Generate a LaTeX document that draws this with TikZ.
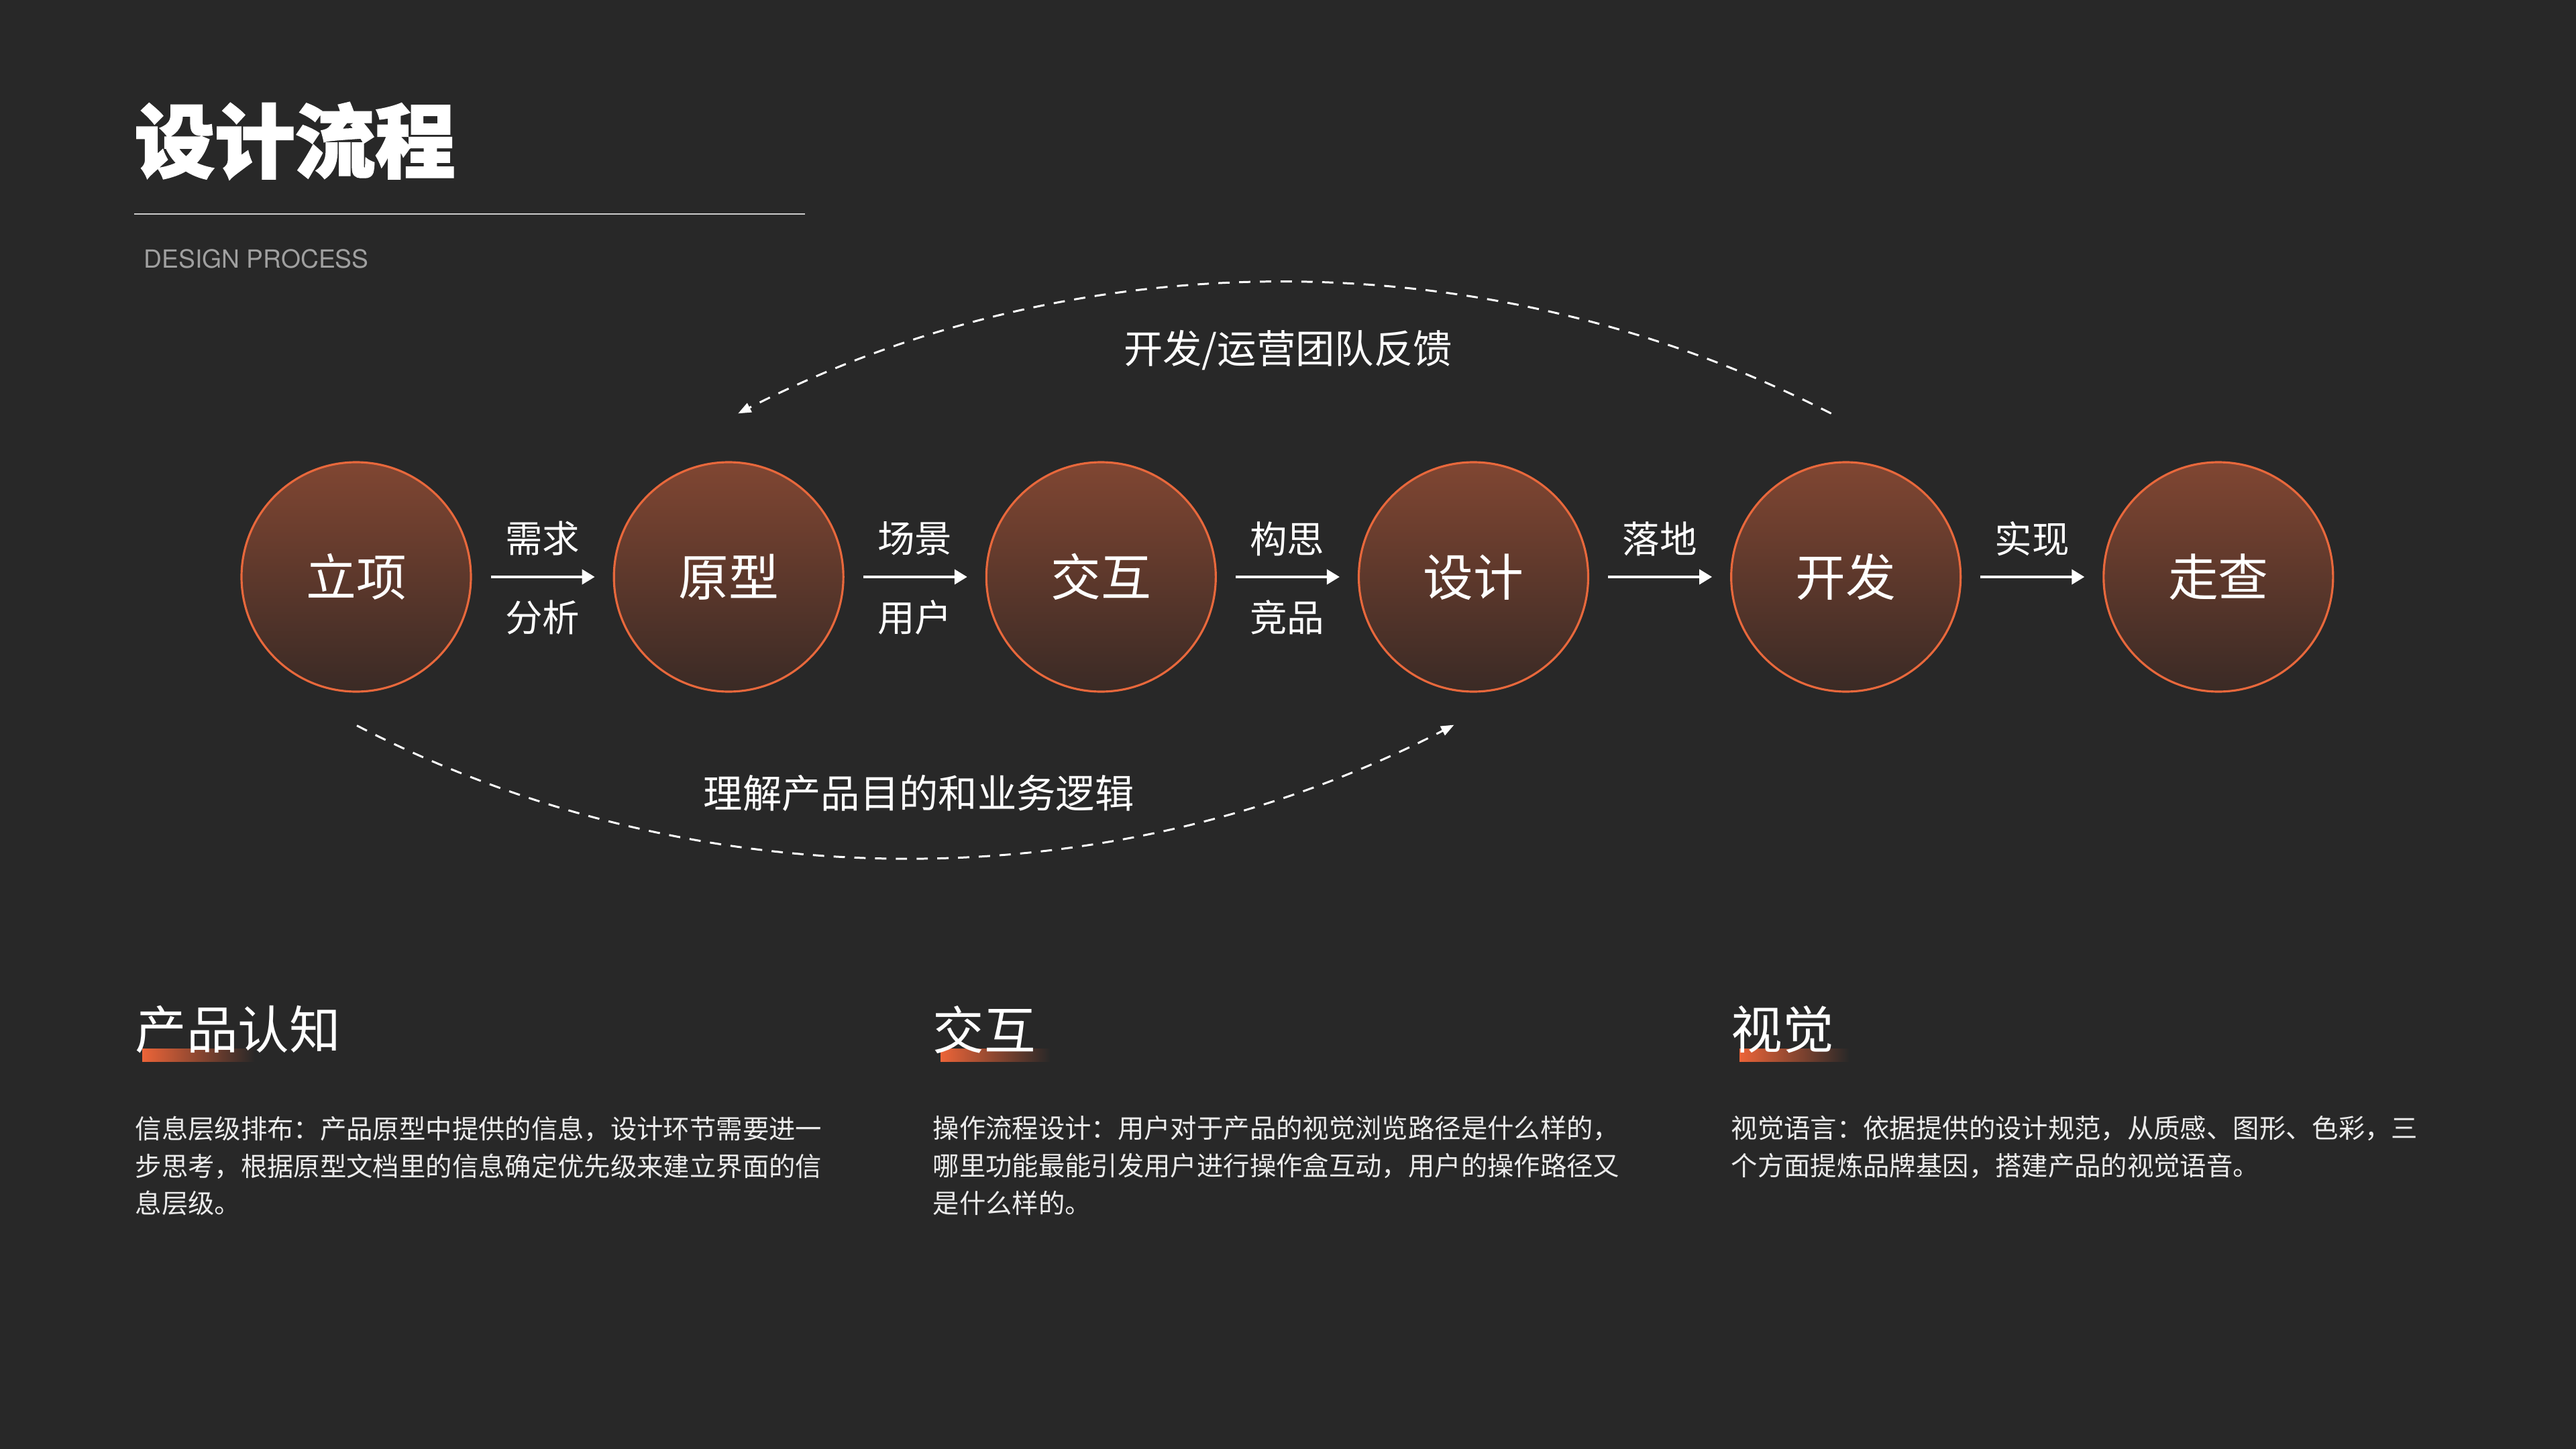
\documentclass[tikz,border=0pt]{standalone}
\usepackage{fontspec}
\setmainfont{Noto Sans CJK SC}
\newfontfamily\heavyfont{Noto Sans CJK SC}[BoldFeatures={FakeBold=2}]
\newfontfamily\latinsans{TeX Gyre Heros}
\usetikzlibrary{arrows.meta,positioning}

\definecolor{bgcol}{RGB}{40,40,40}
\definecolor{disctop}{RGB}{128,70,50}
\definecolor{discbottom}{RGB}{58,42,37}
\definecolor{ringorange}{RGB}{232,104,60}
\definecolor{barorange}{RGB}{236,100,56}
\definecolor{subgray}{RGB}{160,160,160}

\tikzset{
  stage/.style={circle, minimum size=3.42cm, inner sep=0pt, draw=ringorange, line width=0.9pt,
    top color=disctop, bottom color=discbottom, text=white, font=\fontsize{21.3pt}{24pt}\selectfont},
  flowarrow/.style={white, line width=1pt, -{Triangle[length=5.4pt,width=6.3pt]},
    shorten <=0.28cm, shorten >=0.27cm},
  steplabel/.style={text=white, inner sep=0pt, font=\fontsize{15.8pt}{18pt}\selectfont},
  feedback/.style={white, line width=0.85pt, dash pattern=on 4.8pt off 4pt,
    -{Triangle[length=5.5pt,width=4.2pt]}},
  arclabel/.style={text=white, inner sep=0pt, font=\fontsize{16.6pt}{19pt}\selectfont},
  heading/.style={anchor=west, text=white, inner sep=0pt, font=\fontsize{21.8pt}{24pt}\selectfont},
  bodytext/.style={anchor=north west, align=left, inner sep=0pt, text=white!92!black,
    font=\fontsize{11.2pt}{15.9pt}\selectfont}
}

\begin{document}
\begin{tikzpicture}
% page and background
\useasboundingbox (0,0) rectangle (38.4,-21.6);
\fill[bgcol] (0,0) rectangle (38.4,-21.6);

% Title block
\node[anchor=west, inner sep=0pt, text=white, font=\heavyfont\bfseries\fontsize{34pt}{37pt}\selectfont]
  (title) at (2.00,-2.10) {设计流程};
\draw[white!80!black, line width=0.6pt] (2.00,-3.19) -- (12.00,-3.19);
\node[anchor=west, inner sep=0pt, text=subgray, font=\latinsans\fontsize{10.6pt}{12pt}\selectfont]
  (subtitle) at (2.14,-3.86) {DESIGN PROCESS};

% Process stages
\node[stage] (lixiang) at (5.31,-8.60) {立项};
\node[stage, right=2.10cm of lixiang] (yuanxing) {原型};
\node[stage, right=2.10cm of yuanxing] (jiaohu) {交互};
\node[stage, right=2.10cm of jiaohu] (sheji) {设计};
\node[stage, right=2.10cm of sheji] (kaifa) {开发};
\node[stage, right=2.10cm of kaifa] (zoucha) {走查};

% Arrows between stages
\draw[flowarrow] (lixiang) -- (yuanxing)
  node[steplabel, midway, yshift=0.57cm] {需求}
  node[steplabel, midway, yshift=-0.60cm] {分析};
\draw[flowarrow] (yuanxing) -- (jiaohu)
  node[steplabel, midway, yshift=0.57cm] {场景}
  node[steplabel, midway, yshift=-0.60cm] {用户};
\draw[flowarrow] (jiaohu) -- (sheji)
  node[steplabel, midway, yshift=0.57cm] {构思}
  node[steplabel, midway, yshift=-0.60cm] {竞品};
\draw[flowarrow] (sheji) -- (kaifa)
  node[steplabel, midway, yshift=0.57cm] {落地};
\draw[flowarrow] (kaifa) -- (zoucha)
  node[steplabel, midway, yshift=0.57cm] {实现};

% Feedback loop (top) and understanding loop (bottom)
\draw[feedback] ([shift={(-0.22,0.71)}]kaifa.north)
  .. controls +(-5.1,2.61) and +(5.1,2.61) .. ([shift={(0.14,0.71)}]yuanxing.north)
  node[arclabel, pos=0.5, yshift=-1.01cm, xshift=0.05cm] {开发/运营团队反馈};
\draw[feedback] ([shift={(0.01,-0.49)}]lixiang.south)
  .. controls +(5.1,-2.64) and +(-5.1,-2.64) .. ([shift={(-0.29,-0.48)}]sheji.south)
  node[arclabel, pos=0.5, yshift=0.97cm, xshift=0.2cm] {理解产品目的和业务逻辑};

% Bottom columns: accent bars
\shade[left color=barorange, right color=bgcol] (2.12,-15.63) rectangle (3.80,-15.82);
\shade[left color=barorange, right color=bgcol] (14.02,-15.63) rectangle (15.66,-15.82);
\shade[left color=barorange, right color=bgcol] (25.93,-15.63) rectangle (27.57,-15.82);

% Bottom columns: headings
\node[heading] (hproduct) at (2.01,-15.35) {产品认知};
\node[heading] (hinteract) at (13.90,-15.35) {交互};
\node[heading] (hvisual) at (25.80,-15.35) {视觉};

% Bottom columns: descriptions
\node[bodytext] (tproduct) at (2.01,-16.63)
  {信息层级排布：产品原型中提供的信息，设计环节需要进一\\步思考，根据原型文档里的信息确定优先级来建立界面的信\\息层级。};
\node[bodytext] (tinteract) at (13.90,-16.63)
  {操作流程设计：用户对于产品的视觉浏览路径是什么样的，\\哪里功能最能引发用户进行操作盒互动，用户的操作路径又\\是什么样的。};
\node[bodytext] (tvisual) at (25.80,-16.63)
  {视觉语言：依据提供的设计规范，从质感、图形、色彩，三\\个方面提炼品牌基因，搭建产品的视觉语音。};
\end{tikzpicture}
\end{document}
